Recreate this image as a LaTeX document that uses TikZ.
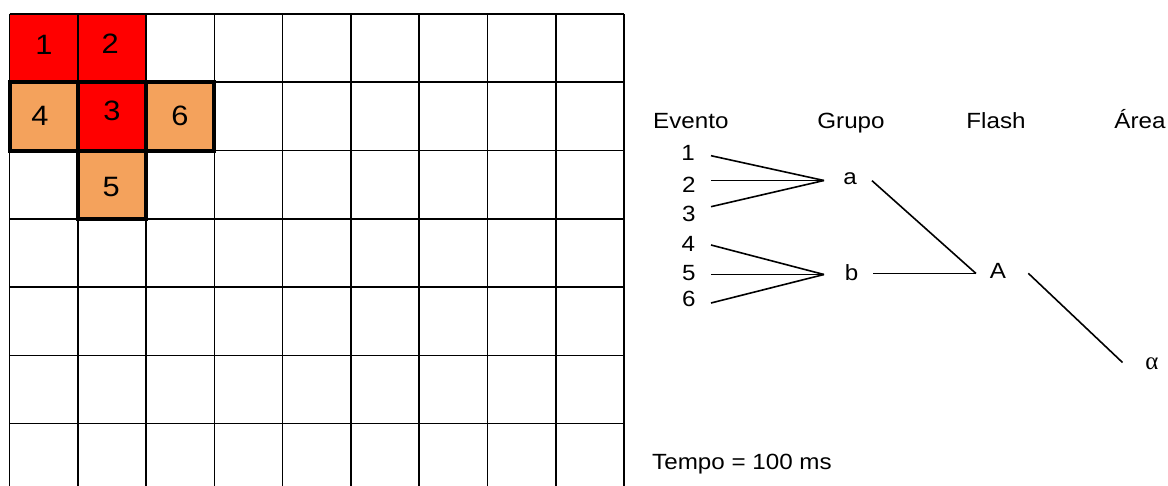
\documentclass[tikz,border=0pt]{standalone}
\usepackage{fontspec}
\setmainfont[FakeStretch=1.1]{Liberation Sans}
\newfontfamily\greekfont{Liberation Serif}
\definecolor{cellred}{RGB}{255,0,0}
\definecolor{cellorange}{RGB}{244,162,92}
\begin{document}
\begin{tikzpicture}[x=1pt,y=-1pt,
  gridline/.style={line width=1.6pt,black},
  thickbox/.style={line width=4pt,black},
  conn/.style={line width=1.6pt,black},
  celltxt/.style={anchor=base,inner sep=0pt,font=\fontsize{28}{31}\selectfont},
  lbl/.style={anchor=base,inner sep=0pt,font=\fontsize{22}{26}\selectfont},
  greek/.style={anchor=base,inner sep=0pt,font=\fontsize{25}{29}\greekfont}]
\useasboundingbox[fill=white] (0,0) rectangle (1168,486);
\def\cw{68.28}
% filled cells
\fill[cellred] (9.5,14) rectangle (9.5+2*\cw,14+\cw);
\fill[cellred] (9.5+\cw,14+\cw) rectangle (9.5+2*\cw,14+2*\cw);
\fill[cellorange] (9.5,14+\cw) rectangle (9.5+\cw,14+2*\cw);
\fill[cellorange] (9.5+2*\cw,14+\cw) rectangle (9.5+3*\cw,14+2*\cw);
\fill[cellorange] (9.5+\cw,14+2*\cw) rectangle (9.5+2*\cw,14+3*\cw);
% grid
\foreach \i in {0,...,9} \draw[gridline] (9.5+\i*\cw,14) -- (9.5+\i*\cw,486);
\foreach \j in {0,...,6} \draw[gridline] (9.5,14+\j*\cw) -- (624,14+\j*\cw);
% thick outlines
\draw[thickbox] (9.5,14+\cw) rectangle (9.5+\cw,14+2*\cw);
\draw[thickbox] (9.5+\cw,14+\cw) rectangle (9.5+2*\cw,14+2*\cw);
\draw[thickbox] (9.5+2*\cw,14+\cw) rectangle (9.5+3*\cw,14+2*\cw);
\draw[thickbox] (9.5+\cw,14+2*\cw) rectangle (9.5+2*\cw,14+3*\cw);
% cell numbers
\node[celltxt] (c1) at (44,54.3) {1};
\node[celltxt] (c2) at (110.3,53.3) {2};
\node[celltxt] (c3) at (112,120.7) {3};
\node[celltxt] (c4) at (40,126) {4};
\node[celltxt] (c6) at (180,126) {6};
\node[celltxt] (c5) at (111.3,196.7) {5};
% headers
\node[lbl] (hev) at (690.8,129) {Evento};
\node[lbl] (hgr) at (851,129) {Grupo};
\node[lbl] (hfl) at (996,129) {Flash};
\node[lbl] (har) at (1140,129) {Área};
% events
\node[lbl] (e1) at (688,160.7) {1};
\node[lbl] (e2) at (688.8,192.7) {2};
\node[lbl] (e3) at (688.8,221.7) {3};
\node[lbl] (e4) at (688.3,251.7) {4};
\node[lbl] (e5) at (688.8,280.7) {5};
\node[lbl] (e6) at (688.8,306.7) {6};
% groups, flash, area
\node[lbl] (ga) at (850,185) {a};
\node[lbl] (gb) at (851.5,280.7) {b};
\node[lbl] (fA) at (998,278.3) {A};
\node[greek] (al) at (1152,369.3) {α};
\node[lbl,anchor=base west] (tempo) at (652,469) {Tempo = 100 ms};
% connector end points
\coordinate (s1) at (711,155.7);
\coordinate (s2) at (711,180.5);
\coordinate (s3) at (711,206.7);
\coordinate (s4) at (711,245);
\coordinate (s5) at (711,274.5);
\coordinate (s6) at (711,303);
\coordinate (ja) at (824,180.5);
\coordinate (jb) at (824,274.5);
\coordinate (oa) at (872,180.7);
\coordinate (ob) at (873,273.5);
\coordinate (jA) at (976,273.5);
\coordinate (oA) at (1028.3,273.3);
\coordinate (jal) at (1122.5,362.5);
% connectors
\draw[conn] (s1) -- (ja);
\draw[conn] (s2) -- (ja);
\draw[conn] (s3) -- (ja);
\draw[conn] (s4) -- (jb);
\draw[conn] (s5) -- (jb);
\draw[conn] (s6) -- (jb);
\draw[conn] (oa) -- (jA);
\draw[conn] (ob) -- (jA);
\draw[conn] (oA) -- (jal);
\end{tikzpicture}
\end{document}
